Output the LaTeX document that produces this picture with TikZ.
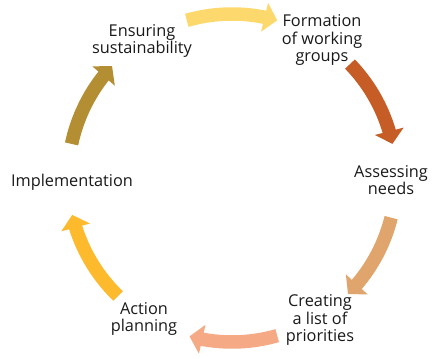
\documentclass[tikz,border=0pt]{standalone}
\usepackage{fontspec}
\setmainfont{Open Sans}
\usetikzlibrary{arrows.meta,bending}

\definecolor{ArrowFormation}{HTML}{FDD86C}
\definecolor{ArrowAssessing}{HTML}{C65D27}
\definecolor{ArrowPriorities}{HTML}{E0A56D}
\definecolor{ArrowPlanning}{HTML}{F5A985}
\definecolor{ArrowImplement}{HTML}{FCBA2C}
\definecolor{ArrowSustain}{HTML}{B48E32}

\tikzset{
  StepStyle/.style={align=center, inner sep=0pt, text=black!90,
    font=\fontsize{16.3}{17.5}\selectfont},
  CycleStyle/.style={line width=13.5pt, -{Triangle[length=13pt,width=29pt,flex]}}
}

\begin{document}
\begin{tikzpicture}[x=1pt,y=1pt]
  \useasboundingbox (0,0) rectangle (432,359);
  \coordinate (O) at (232,181);
  % the six steps
  \node[StepStyle] (Form) at (322,319) {Formation\\of working\\groups};
  \node[StepStyle] (Needs) at (391,179) {Assessing\\needs};
  \node[StepStyle] (List) at (320,39) {Creating\\a list of\\priorities};
  \node[StepStyle] (Plan) at (144,40) {Action\\planning};
  \node[StepStyle] (Impl) at (72,177) {Implementation};
  \node[StepStyle] (Sust) at (142,318) {Ensuring\\sustainability};
  % arrows round the circle
  \draw[CycleStyle, ArrowFormation] (O) ++(106:164) arc[start angle=106, end angle=74, radius=164];
  \draw[CycleStyle, ArrowAssessing] (O) ++(44:164) arc[start angle=44, end angle=12, radius=164];
  \draw[CycleStyle, ArrowPriorities] (O) ++(-14:164) arc[start angle=-14, end angle=-45, radius=164];
  \draw[CycleStyle, ArrowPlanning] (O) ++(-74:164) arc[start angle=-74, end angle=-105, radius=164];
  \draw[CycleStyle, ArrowImplement] (O) ++(-134:164) arc[start angle=-134, end angle=-167, radius=164];
  \draw[CycleStyle, ArrowSustain] (O) ++(168:164) arc[start angle=168, end angle=137, radius=164];
\end{tikzpicture}
\end{document}
